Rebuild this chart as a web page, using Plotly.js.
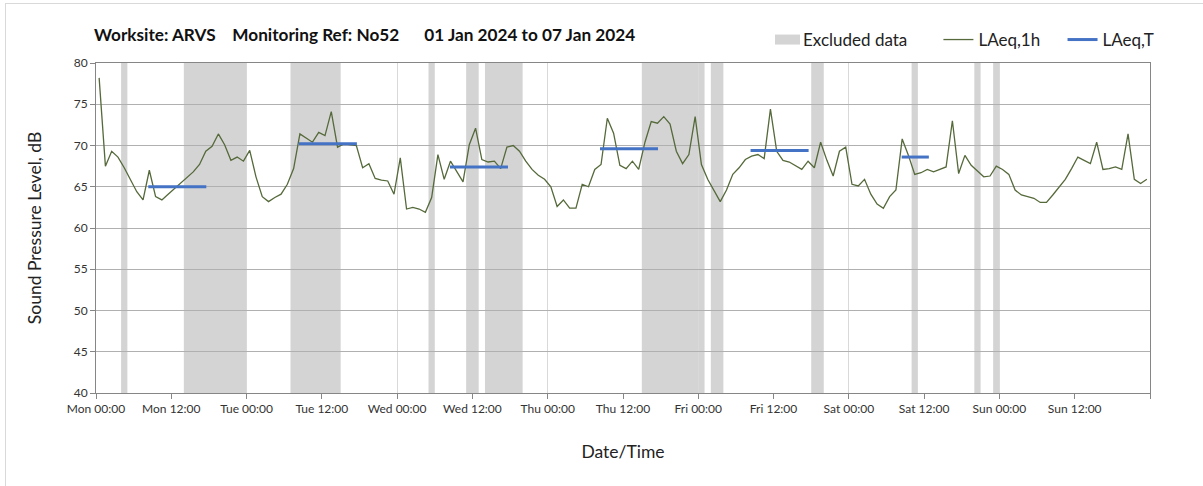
<!DOCTYPE html>
<html><head><meta charset="utf-8">
<script src="https://cdn.plot.ly/plotly-3.0.1.min.js"></script>
<style>
html,body{margin:0;padding:0;background:#fff;overflow:hidden}
#wrap{position:relative;width:1203px;height:486px}
#chart{width:1203px;height:486px}
#frame{position:absolute;left:5px;top:3px;width:1300px;height:600px;border-top:1px solid #d9d9d9;border-left:1px solid #d9d9d9;pointer-events:none}
</style></head><body>
<div id="wrap"><div id="chart"></div><div id="frame"></div></div>
<script>
// ---- data ----
const days = ['2024-01-01','2024-01-02','2024-01-03','2024-01-04','2024-01-05','2024-01-06','2024-01-07'];
const dayLabels = ['Mon','Tue','Wed','Thu','Fri','Sat','Sun'];
const tickTimes = ['00:00','12:00'];
const monLAeq1h = [78.2,67.5,69.3,68.6,67.3,65.9,64.4,63.4,67.0,63.8,63.4,64.1,64.8,65.4,66.2,66.8,67.7,69.3,69.9,71.4,70.1,68.2,68.6,68.1];
const tueLAeq1h = [69.4,66.2,63.8,63.2,63.7,64.1,65.3,67.2,71.4,70.9,70.4,71.6,71.2,74.1,69.8,70.2,70.1,70.0,67.3,67.8,66.0,65.8,65.7,64.1];
const wedLAeq1h = [68.5,62.3,62.5,62.3,61.9,63.7,68.9,65.9,68.1,66.9,65.6,70.1,72.1,68.3,68.0,68.1,67.2,69.8,70.0,69.3,68.1,67.1,66.4,65.9];
const thuLAeq1h = [65.0,62.6,63.4,62.4,62.4,65.3,65.0,67.1,67.7,73.3,71.5,67.6,67.2,68.1,67.1,70.4,72.9,72.7,73.5,72.6,69.3,67.8,68.9,73.5];
const friLAeq1h = [67.7,65.9,64.6,63.2,64.6,66.5,67.3,68.3,68.7,68.9,68.4,74.4,69.3,68.2,68.0,67.5,67.1,68.1,67.3,70.4,68.2,66.3,69.3,69.8];
const satLAeq1h = [65.3,65.1,65.9,64.1,62.9,62.4,63.8,64.6,70.8,68.8,66.5,66.7,67.1,66.8,67.1,67.4,73.0,66.6,68.8,67.6,66.9,66.2,66.3,67.5];
const sunLAeq1h = [67.1,66.5,64.6,64.0,63.8,63.6,63.1,63.1,64.0,65.0,65.9,67.2,68.6,68.2,67.8,70.4,67.1,67.2,67.4,67.1,71.4,65.9,65.4,65.9];
const dailyLAeq1h = [monLAeq1h,tueLAeq1h,wedLAeq1h,thuLAeq1h,friLAeq1h,satLAeq1h,sunLAeq1h];

const excludedStart = ['2024-01-01 04:00','2024-01-01 14:00','2024-01-02 07:00','2024-01-03 05:00','2024-01-03 11:00','2024-01-03 14:00','2024-01-04 15:00','2024-01-05 02:00','2024-01-05 18:00','2024-01-06 10:00','2024-01-06 20:00','2024-01-06 23:00'];
const excludedEnd   = ['2024-01-01 05:00','2024-01-02 00:00','2024-01-02 15:00','2024-01-03 06:00','2024-01-03 13:00','2024-01-03 20:00','2024-01-05 01:00','2024-01-05 04:00','2024-01-05 20:00','2024-01-06 11:00','2024-01-06 21:00','2024-01-07 00:00'];

const laeqTStart = ['2024-01-01 08:20','2024-01-02 08:20','2024-01-03 08:25','2024-01-04 08:20','2024-01-05 08:20','2024-01-06 08:25'];
const laeqTEnd   = ['2024-01-01 17:35','2024-01-02 17:35','2024-01-03 17:40','2024-01-04 17:35','2024-01-05 17:35','2024-01-06 12:45'];
const laeqTValue = [65.0,70.2,67.4,69.6,69.4,68.6];

const axisRange = ['2024-01-01 00:00','2024-01-08 00:00'];

// ---- build traces ----
const pad = n => (n<10?'0':'')+n;
const hx = [], hy = [];
days.forEach((d,i)=>{ dailyLAeq1h[i].forEach((v,h)=>{ hx.push(d+' '+pad(h)+':30'); hy.push(v); }); });
const tx = [], ty = [];
laeqTStart.forEach((s,i)=>{ tx.push(s, laeqTEnd[i], null); ty.push(laeqTValue[i], laeqTValue[i], null); });
const tickvals = [], ticktext = [];
days.forEach((d,i)=>{ tickTimes.forEach(t=>{ tickvals.push(d+' '+t); ticktext.push(dayLabels[i]+' '+t); }); });
tickvals.push(axisRange[1]); ticktext.push('');

const FONT = 'Lato, "Noto Sans", sans-serif';
const NB = '\u00a0';
const shapes = excludedStart.map((s,i)=>({
  type:'rect', xref:'x', yref:'paper', x0:s, x1:excludedEnd[i], y0:0, y1:1,
  fillcolor:'#d4d4d4', line:{width:0}, layer:'below',
  showlegend: i===0, name:'Excluded data'+NB.repeat(6), legendgroup:'excl', legendrank:1
}));

const traces = [
  {type:'scatter', mode:'lines', x:hx, y:hy, name:'LAeq,1h'+NB.repeat(4), xaxis:'x', yaxis:'y',
   line:{color:'#55693a', width:1.3}, legendrank:2},
  {type:'scatter', mode:'lines', x:tx, y:ty, name:'LAeq,T', xaxis:'x2', yaxis:'y',
   line:{color:'#4472c4', width:3}, connectgaps:false, legendrank:3}
];

const layout = {
  width:1203, height:486,
  margin:{l:96, r:53, t:63, b:93},
  paper_bgcolor:'rgba(0,0,0,0)', plot_bgcolor:'#fff',
  font:{family:FONT, color:'#262626'},
  title:{text:'<b>Worksite: ARVS\u00a0\u00a0\u00a0 Monitoring Ref: No52\u00a0\u00a0\u00a0\u00a0\u00a0 01 Jan 2024 to 07 Jan 2024</b>',
         x:94/1203, xanchor:'left', y:1-35/486, yanchor:'middle', font:{size:17.2, family:FONT, color:'#111'}},
  showlegend:true,
  legend:{orientation:'h', x:(763-96)/1054, xanchor:'left', y:1+(63-40)/330, yanchor:'middle',
          font:{size:17, family:FONT, color:'#222'}, bgcolor:'rgba(0,0,0,0)', itemwidth:30, traceorder:'normal'},
  xaxis:{type:'date', range:axisRange, dtick:86400000, tick0:'2024-01-01 00:00',
         showgrid:true, gridcolor:'#d9d9d9', gridwidth:1, showticklabels:false, ticks:'',
         showline:false, zeroline:false, fixedrange:true},
  xaxis2:{type:'date', overlaying:'x', anchor:'y', side:'bottom', range:axisRange, matches:'x',
          tickmode:'array', tickvals:tickvals, ticktext:ticktext,
          showgrid:false, ticks:'outside', ticklen:5, tickcolor:'#868686',
          showline:true, linecolor:'#868686', mirror:true,
          tickfont:{size:12, family:FONT, color:'#333'},
          title:{text:'Date/Time', font:{size:17.5, family:FONT, color:'#222'}, standoff:30}},
  yaxis:{range:[40,80], dtick:5, showgrid:true, gridcolor:'#b0b0b0', gridwidth:1,
         showline:true, linecolor:'#868686', mirror:true, ticks:'outside', ticklen:5, tickcolor:'#868686',
         zeroline:false, tickfont:{size:12, family:FONT, color:'#333'},
         title:{text:'Sound Pressure Level, dB', font:{size:17.5, family:FONT, color:'#222'}, standoff:27}},
  shapes:shapes
};

Plotly.newPlot('chart', traces, layout, {displayModeBar:false, staticPlot:true}).then(gd=>{
  // widen the "Excluded data" legend swatch to a flat rectangle
  gd.querySelectorAll('.legend .traces').forEach(item=>{
    const txt = item.querySelector('.legendtext');
    if(txt && txt.textContent.indexOf('Excluded')===0){
      item.querySelectorAll('.legendpoints path, .legendfill path, .legendsymbols path, path.legendundefined').forEach(p=>p.style.opacity=0);
      const ns='http://www.w3.org/2000/svg';
      const r=document.createElementNS(ns,'path');
      r.setAttribute('d','M12,-5h25v10h-25z');
      r.setAttribute('fill','#d4d4d4');
      item.insertBefore(r, item.firstChild);
    }
  });
});
</script>
</body></html>
